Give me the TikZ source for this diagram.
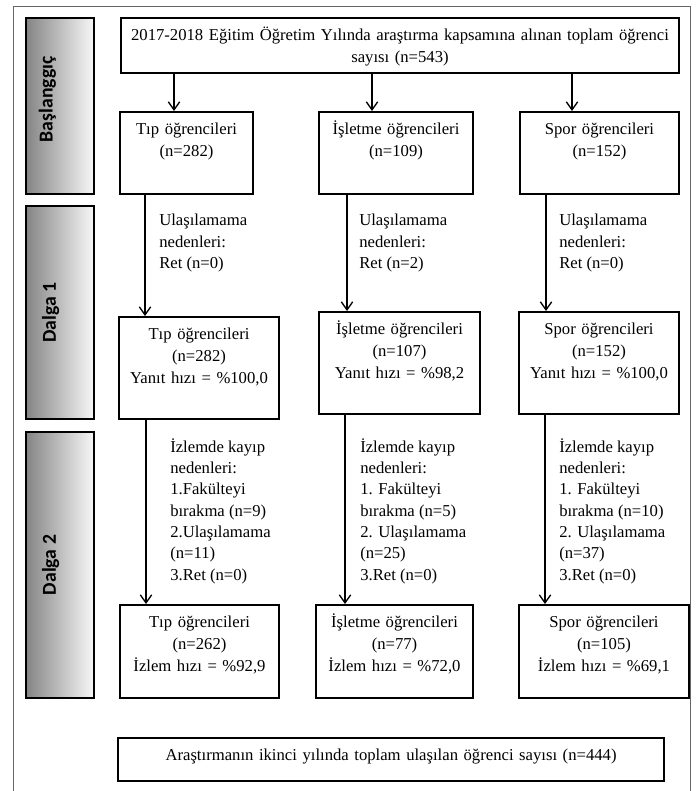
\documentclass[tikz,border=0pt]{standalone}
\usepackage{fontspec}
\setmainfont{Liberation Serif}
\newfontfamily\barfont{Carlito}
\usetikzlibrary{arrows.meta}
\tikzset{
  stubox/.style={draw, line width=1.5pt, align=center, anchor=north west,
    inner sep=0pt, text height=17pt, font=\fontsize{12.5}{16.5}\selectfont},
  lbl/.style={align=left, anchor=west, inner sep=0pt,
    font=\fontsize{12.5}{16}\selectfont},
  bar/.style={draw, line width=1.5pt, anchor=north west, inner sep=0pt,
    left color=black!48, right color=black!3, minimum width=51pt},
  bartext/.style={rotate=90, font=\barfont\bfseries\fontsize{14.8}{16}\selectfont},
  arr/.style={-{Straight Barb[length=6pt,width=8.5pt]}, line width=1pt}
}
\begin{document}
\begin{tikzpicture}[x=0.75pt, y=-0.75pt]
  \useasboundingbox (0,0) rectangle (696,791);
  \draw[black!60, line width=0.6pt] (13,791) -- (13,6) -- (690,6) -- (690,791);

  \node (bar1) [bar, minimum height=132pt] at (25,17) {};
  \node (bar2) [bar, minimum height=159.75pt] at (25,205) {};
  \node (bar3) [bar, minimum height=199.5pt] at (25,431) {};
  \node (start) [bartext] at ([xshift=-9.5pt, yshift=5pt]bar1.center) {Başlanggıç};
  \node (wave1) [bartext] at ([xshift=-7pt]bar2.center) {Dalga 1};
  \node (wave2) [bartext] at ([xshift=-7pt]bar3.center) {Dalga 2};

  \node (top) [stubox, text width=418.5pt, text depth=24pt] at (120,17)
    {2017-2018 Eğitim Öğretim Yılında araştırma kapsamına alınan toplam öğrenci\\ sayısı (n=543)};

  \node (tip1) [stubox, text width=99.75pt, text depth=44.25pt] at (119,111)
    {Tıp öğrencileri\\ (n=282)};
  \node (isl1) [stubox, text width=115.5pt, text depth=44.25pt] at (318,111)
    {İşletme öğrencileri\\ (n=109)};
  \node (spor1) [stubox, text width=119.25pt, text depth=44.25pt] at (519,111)
    {Spor öğrencileri\\ (n=152)};

  \node (tip2) [stubox, text width=120pt, text depth=59.25pt] at (118,316)
    {Tıp öğrencileri\\ (n=282)\\ Yanıt hızı = \%100,0};
  \node (isl2) [stubox, text width=120.75pt, text depth=59.25pt] at (318,311)
    {İşletme öğrencileri\\ (n=107)\\ Yanıt hızı = \%98,2};
  \node (spor2) [stubox, text width=120pt, text depth=59.25pt] at (518,311)
    {Spor öğrencileri\\ (n=152)\\ Yanıt hızı = \%100,0};

  \node (tip3) [stubox, text width=119.25pt, text depth=52.5pt] at (119,604)
    {Tıp öğrencileri\\ (n=262)\\ İzlem hızı = \%92,9};
  \node (isl3) [stubox, text width=117.75pt, text depth=52.5pt] at (315,604)
    {İşletme öğrencileri\\ (n=77)\\ İzlem hızı = \%72,0};
  \node (spor3) [stubox, text width=127.5pt, text depth=52.5pt] at (518,604)
    {Spor öğrencileri\\ (n=105)\\ İzlem hızı = \%69,1};

  \node (total) [stubox, text width=409.5pt, text height=16.5pt, text depth=15.75pt] at (117,737)
    {Araştırmanın ikinci yılında toplam ulaşılan öğrenci sayısı (n=444)};

  \node (miss1) [lbl] at (159,243) {Ulaşılamama\\ nedenleri:\\ Ret (n=0)};
  \node (miss2) [lbl] at (359,243) {Ulaşılamama\\ nedenleri:\\ Ret (n=2)};
  \node (miss3) [lbl] at (559,243) {Ulaşılamama\\ nedenleri:\\ Ret (n=0)};

  \node (loss1) [lbl] at (170,511) {İzlemde kayıp\\ nedenleri:\\ 1.Fakülteyi\\ bırakma (n=9)\\
    2.Ulaşılamama\\ (n=11)\\ 3.Ret (n=0)};
  \node (loss2) [lbl] at (360,511) {İzlemde kayıp\\ nedenleri:\\ 1. Fakülteyi\\ bırakma (n=5)\\
    2. Ulaşılamama\\ (n=25)\\ 3.Ret (n=0)};
  \node (loss3) [lbl] at (559,511) {İzlemde kayıp\\ nedenleri:\\ 1. Fakülteyi\\ bırakma (n=10)\\
    2. Ulaşılamama\\ (n=37)\\ 3.Ret (n=0)};

  \draw[arr] ([xshift=41.25pt]tip1.north west |- top.south) -- ([xshift=41.25pt]tip1.north west);
  \draw[arr] ([xshift=40.5pt]isl1.north west |- top.south) -- ([xshift=40.5pt]isl1.north west);
  \draw[arr] ([xshift=39.75pt]spor1.north west |- top.south) -- ([xshift=39.75pt]spor1.north west);

  \draw[arr] ([xshift=19.5pt]tip1.south west) -- ([xshift=19.5pt]tip1.south west |- tip2.north);
  \draw[arr] ([xshift=21.75pt]isl1.south west) -- ([xshift=21.75pt]isl1.south west |- isl2.north);
  \draw[arr] ([xshift=20.25pt]spor1.south west) -- ([xshift=20.25pt]spor1.south west |- spor2.north);

  \draw[arr] ([xshift=21pt]tip2.south west) -- ([xshift=21pt]tip2.south west |- tip3.north);
  \draw[arr] ([xshift=20.25pt]isl2.south west) -- ([xshift=20.25pt]isl2.south west |- isl3.north);
  \draw[arr] ([xshift=20.25pt]spor2.south west) -- ([xshift=20.25pt]spor2.south west |- spor3.north);
\end{tikzpicture}
\end{document}
